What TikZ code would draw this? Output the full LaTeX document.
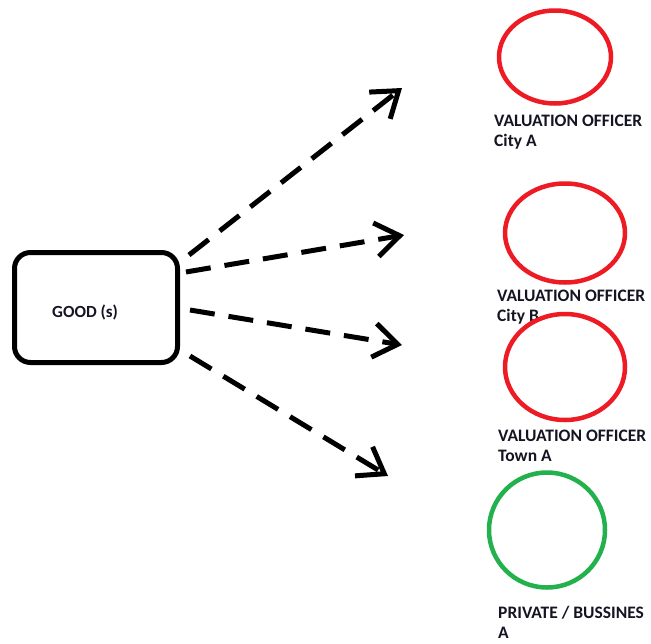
\documentclass[tikz,border=0pt]{standalone}
\usepackage{fontspec}
\setmainfont{Carlito}
\usetikzlibrary{arrows.meta,shapes.geometric}
\definecolor{paintred}{RGB}{237,28,36}
\definecolor{paintgreen}{RGB}{34,177,76}
\definecolor{inktext}{RGB}{20,20,35}
\tikzset{
  goodbox/.style={draw=black, line width=5pt, rounded corners=16pt, minimum width=163pt, minimum height=110pt, inner sep=0pt},
  redring/.style={ellipse, draw=paintred, line width=4.5pt, inner sep=0pt},
  greenring/.style={ellipse, draw=paintgreen, line width=4.5pt, inner sep=0pt},
  lbl/.style={font=\fontsize{17.5}{20}\selectfont\bfseries, text=inktext, inner sep=0pt, align=left, anchor=north west},
  flow/.style={line width=5pt, dash pattern=on 25pt off 14pt, -{Straight Barb[length=24pt,width=34pt,line width=5pt]}}
}
\begin{document}
\begin{tikzpicture}[x=1pt,y=-1pt]
\useasboundingbox (0,0) rectangle (651,643);
\node[goodbox] (good) at (96,307.5) {};
\node[font=\fontsize{17}{20}\selectfont\bfseries, text=inktext, inner sep=0pt, anchor=base west] (goodlabel) at (52,317) {GOOD (s)};

\node[redring, minimum width=112pt, minimum height=93pt] (va) at (555,57) {};
\node[lbl] (vaname) at (494,115) {VALUATION OFFICER\\City A};

\node[redring, minimum width=120pt, minimum height=99pt] (vb) at (565,233) {};
\node[lbl] (vbname) at (497,290) {VALUATION OFFICER\\City B};

\node[redring, minimum width=120pt, minimum height=106pt] (vc) at (565,367) {};
\node[lbl] (vcname) at (498,430) {VALUATION OFFICER\\Town A};

\node[greenring, minimum width=116pt, minimum height=115pt] (pa) at (547,530) {};
\node[lbl] (paname) at (498,606) {PRIVATE / BUSSINES\\A};

\coordinate (s1) at (189,255);
\coordinate (t1) at (402,88);
\coordinate (s2) at (186,272);
\coordinate (t2) at (404,235);
\coordinate (s3) at (190,310);
\coordinate (t3) at (402,345);
\coordinate (s4) at (190,356);
\coordinate (t4) at (388,476);

\draw[flow] (s1) -- (t1);
\draw[flow] (s2) -- (t2);
\draw[flow] (s3) -- (t3);
\draw[flow] (s4) -- (t4);
\end{tikzpicture}
\end{document}
